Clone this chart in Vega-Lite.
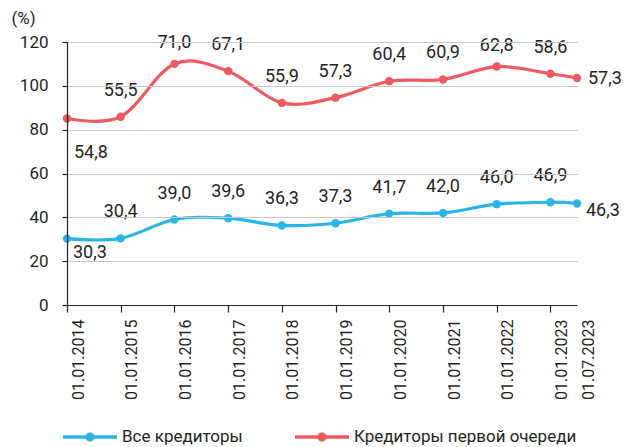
{
  "$schema": "https://vega.github.io/schema/vega-lite/v6.json",
  "width": 510,
  "height": 263,
  "autosize": "none",
  "padding": {"left": 67, "top": 42, "right": 52, "bottom": 142},
  "background": "white",
  "config": {
    "view": {"stroke": null},
    "font": "Roboto",
    "locale": {"number": {"decimal": ",", "thousands": " ", "grouping": [3], "currency": ["", ""]}},
    "text": {"font": "Roboto", "fontSize": 18, "fill": "#231f20"}
  },
  "data": {
    "values": [
      {"date": "2014-01-01T00:00:00", "series": "Все кредиторы", "value": 30.3},
      {"date": "2015-01-01T00:00:00", "series": "Все кредиторы", "value": 30.4},
      {"date": "2016-01-01T00:00:00", "series": "Все кредиторы", "value": 39.0},
      {"date": "2017-01-01T00:00:00", "series": "Все кредиторы", "value": 39.6},
      {"date": "2018-01-01T00:00:00", "series": "Все кредиторы", "value": 36.3},
      {"date": "2019-01-01T00:00:00", "series": "Все кредиторы", "value": 37.3},
      {"date": "2020-01-01T00:00:00", "series": "Все кредиторы", "value": 41.7},
      {"date": "2021-01-01T00:00:00", "series": "Все кредиторы", "value": 42.0},
      {"date": "2022-01-01T00:00:00", "series": "Все кредиторы", "value": 46.0},
      {"date": "2023-01-01T00:00:00", "series": "Все кредиторы", "value": 46.9},
      {"date": "2023-07-01T00:00:00", "series": "Все кредиторы", "value": 46.3},
      {"date": "2014-01-01T00:00:00", "series": "Кредиторы первой очереди", "value": 54.8},
      {"date": "2015-01-01T00:00:00", "series": "Кредиторы первой очереди", "value": 55.5},
      {"date": "2016-01-01T00:00:00", "series": "Кредиторы первой очереди", "value": 71.0},
      {"date": "2017-01-01T00:00:00", "series": "Кредиторы первой очереди", "value": 67.1},
      {"date": "2018-01-01T00:00:00", "series": "Кредиторы первой очереди", "value": 55.9},
      {"date": "2019-01-01T00:00:00", "series": "Кредиторы первой очереди", "value": 57.3},
      {"date": "2020-01-01T00:00:00", "series": "Кредиторы первой очереди", "value": 60.4},
      {"date": "2021-01-01T00:00:00", "series": "Кредиторы первой очереди", "value": 60.9},
      {"date": "2022-01-01T00:00:00", "series": "Кредиторы первой очереди", "value": 62.8},
      {"date": "2023-01-01T00:00:00", "series": "Кредиторы первой очереди", "value": 58.6},
      {"date": "2023-07-01T00:00:00", "series": "Кредиторы первой очереди", "value": 57.3}
    ]
  },
  "transform": [
    {"stack": "value", "groupby": ["date"], "sort": [{"field": "series", "order": "ascending"}], "as": ["v0", "v1"]}
  ],
  "encoding": {
    "x": {
      "field": "date",
      "type": "temporal",
      "scale": {"domain": [{"year": 2014, "month": 1, "date": 1}, {"year": 2023, "month": 7, "date": 1}], "nice": false},
      "axis": {
        "title": null,
        "format": "%d.%m.%Y",
        "values": [
          {"year": 2014, "month": 1, "date": 1}, {"year": 2015, "month": 1, "date": 1},
          {"year": 2016, "month": 1, "date": 1}, {"year": 2017, "month": 1, "date": 1},
          {"year": 2018, "month": 1, "date": 1}, {"year": 2019, "month": 1, "date": 1},
          {"year": 2020, "month": 1, "date": 1}, {"year": 2021, "month": 1, "date": 1},
          {"year": 2022, "month": 1, "date": 1}, {"year": 2023, "month": 1, "date": 1},
          {"year": 2023, "month": 7, "date": 1}
        ],
        "grid": false,
        "domainColor": "#231f20",
        "domainWidth": 1.2,
        "tickColor": "#231f20",
        "tickWidth": 1.2,
        "tickSize": 7,
        "tickOpacity": {"condition": {"test": "month(datum.value) == 6", "value": 0}, "value": 1},
        "labelAngle": -90,
        "labelAlign": "right",
        "labelBaseline": "middle",
        "labelOffset": 11,
        "labelPadding": 7,
        "labelFont": "Roboto",
        "labelFontSize": 16,
        "labelColor": "#231f20",
        "labelOverlap": false,
        "zindex": 2
      }
    },
    "y": {
      "field": "v1",
      "type": "quantitative",
      "scale": {"domain": [0, 120], "nice": false, "zero": true},
      "axis": {
        "title": "(%)",
        "titleAngle": 0,
        "titleX": -44,
        "titleY": -24,
        "titleAlign": "center",
        "titleBaseline": "middle",
        "titleFont": "Roboto",
        "titleFontWeight": "normal",
        "titleFontSize": 17,
        "titleColor": "#231f20",
        "values": [0, 20, 40, 60, 80, 100, 120],
        "grid": true,
        "gridColor": "#c8c8c8",
        "gridWidth": 1.2,
        "domainColor": "#231f20",
        "domainWidth": 1.2,
        "tickColor": "#231f20",
        "tickWidth": 1.2,
        "tickSize": 5,
        "labelPadding": 14,
        "labelFont": "Roboto",
        "labelFontSize": 17,
        "labelColor": "#231f20",
        "zindex": 1
      }
    },
    "color": {
      "field": "series",
      "type": "nominal",
      "scale": {"domain": ["Все кредиторы", "Кредиторы первой очереди"], "range": ["#29b5e8", "#ef5a5e"]},
      "legend": {
        "orient": "none",
        "direction": "horizontal",
        "columns": 2,
        "legendX": -4,
        "legendY": 368,
        "title": null,
        "symbolType": "M-1,-0.065L1,-0.065L1,0.065L-1,0.065Z M0.17,0A0.17,0.17 0 1,1 -0.17,0A0.17,0.17 0 1,1 0.17,0Z",
        "symbolSize": 2916,
        "symbolStrokeWidth": 0,
        "labelFont": "Roboto",
        "labelFontSize": 17,
        "labelColor": "#231f20",
        "labelOffset": 5,
        "labelLimit": 400,
        "columnPadding": 52,
        "encode": {"symbols": {"update": {"fill": {"signal": "scale('color', datum.value)"}, "strokeWidth": {"value": 0}, "opacity": {"value": 1}}}}
      }
    }
  },
  "layer": [
    {"mark": {"type": "line", "interpolate": "cardinal", "strokeWidth": 3.2}},
    {"mark": {"type": "point", "filled": true, "size": 70, "opacity": 1}},
    {
      "transform": [{"filter": "year(datum.date) != 2014 && !(year(datum.date) == 2023 && month(datum.date) == 6) && datum.v1 <= 108"}],
      "mark": {"type": "text", "dy": -26, "align": "center", "baseline": "middle"},
      "encoding": {"text": {"field": "value", "type": "quantitative", "format": ".1f"}, "color": {"value": "#231f20"}}
    },
    {
      "transform": [{"filter": "year(datum.date) != 2014 && !(year(datum.date) == 2023 && month(datum.date) == 6) && datum.v1 > 108"}],
      "mark": {"type": "text", "dy": -21, "align": "center", "baseline": "middle"},
      "encoding": {"text": {"field": "value", "type": "quantitative", "format": ".1f"}, "color": {"value": "#231f20"}}
    },
    {
      "transform": [{"filter": "year(datum.date) == 2014 && datum.series == 'Все кредиторы'"}],
      "mark": {"type": "text", "dx": 6, "dy": 14, "align": "left", "baseline": "middle"},
      "encoding": {"text": {"field": "value", "type": "quantitative", "format": ".1f"}, "color": {"value": "#231f20"}}
    },
    {
      "transform": [{"filter": "year(datum.date) == 2014 && datum.series == 'Кредиторы первой очереди'"}],
      "mark": {"type": "text", "dx": 7, "dy": 35, "align": "left", "baseline": "middle"},
      "encoding": {"text": {"field": "value", "type": "quantitative", "format": ".1f"}, "color": {"value": "#231f20"}}
    },
    {
      "transform": [{"filter": "year(datum.date) == 2023 && month(datum.date) == 6 && datum.series == 'Все кредиторы'"}],
      "mark": {"type": "text", "dx": 9, "dy": 7, "align": "left", "baseline": "middle"},
      "encoding": {"text": {"field": "value", "type": "quantitative", "format": ".1f"}, "color": {"value": "#231f20"}}
    },
    {
      "transform": [{"filter": "year(datum.date) == 2023 && month(datum.date) == 6 && datum.series == 'Кредиторы первой очереди'"}],
      "mark": {"type": "text", "dx": 11, "dy": 1, "align": "left", "baseline": "middle"},
      "encoding": {"text": {"field": "value", "type": "quantitative", "format": ".1f"}, "color": {"value": "#231f20"}}
    }
  ]
}
